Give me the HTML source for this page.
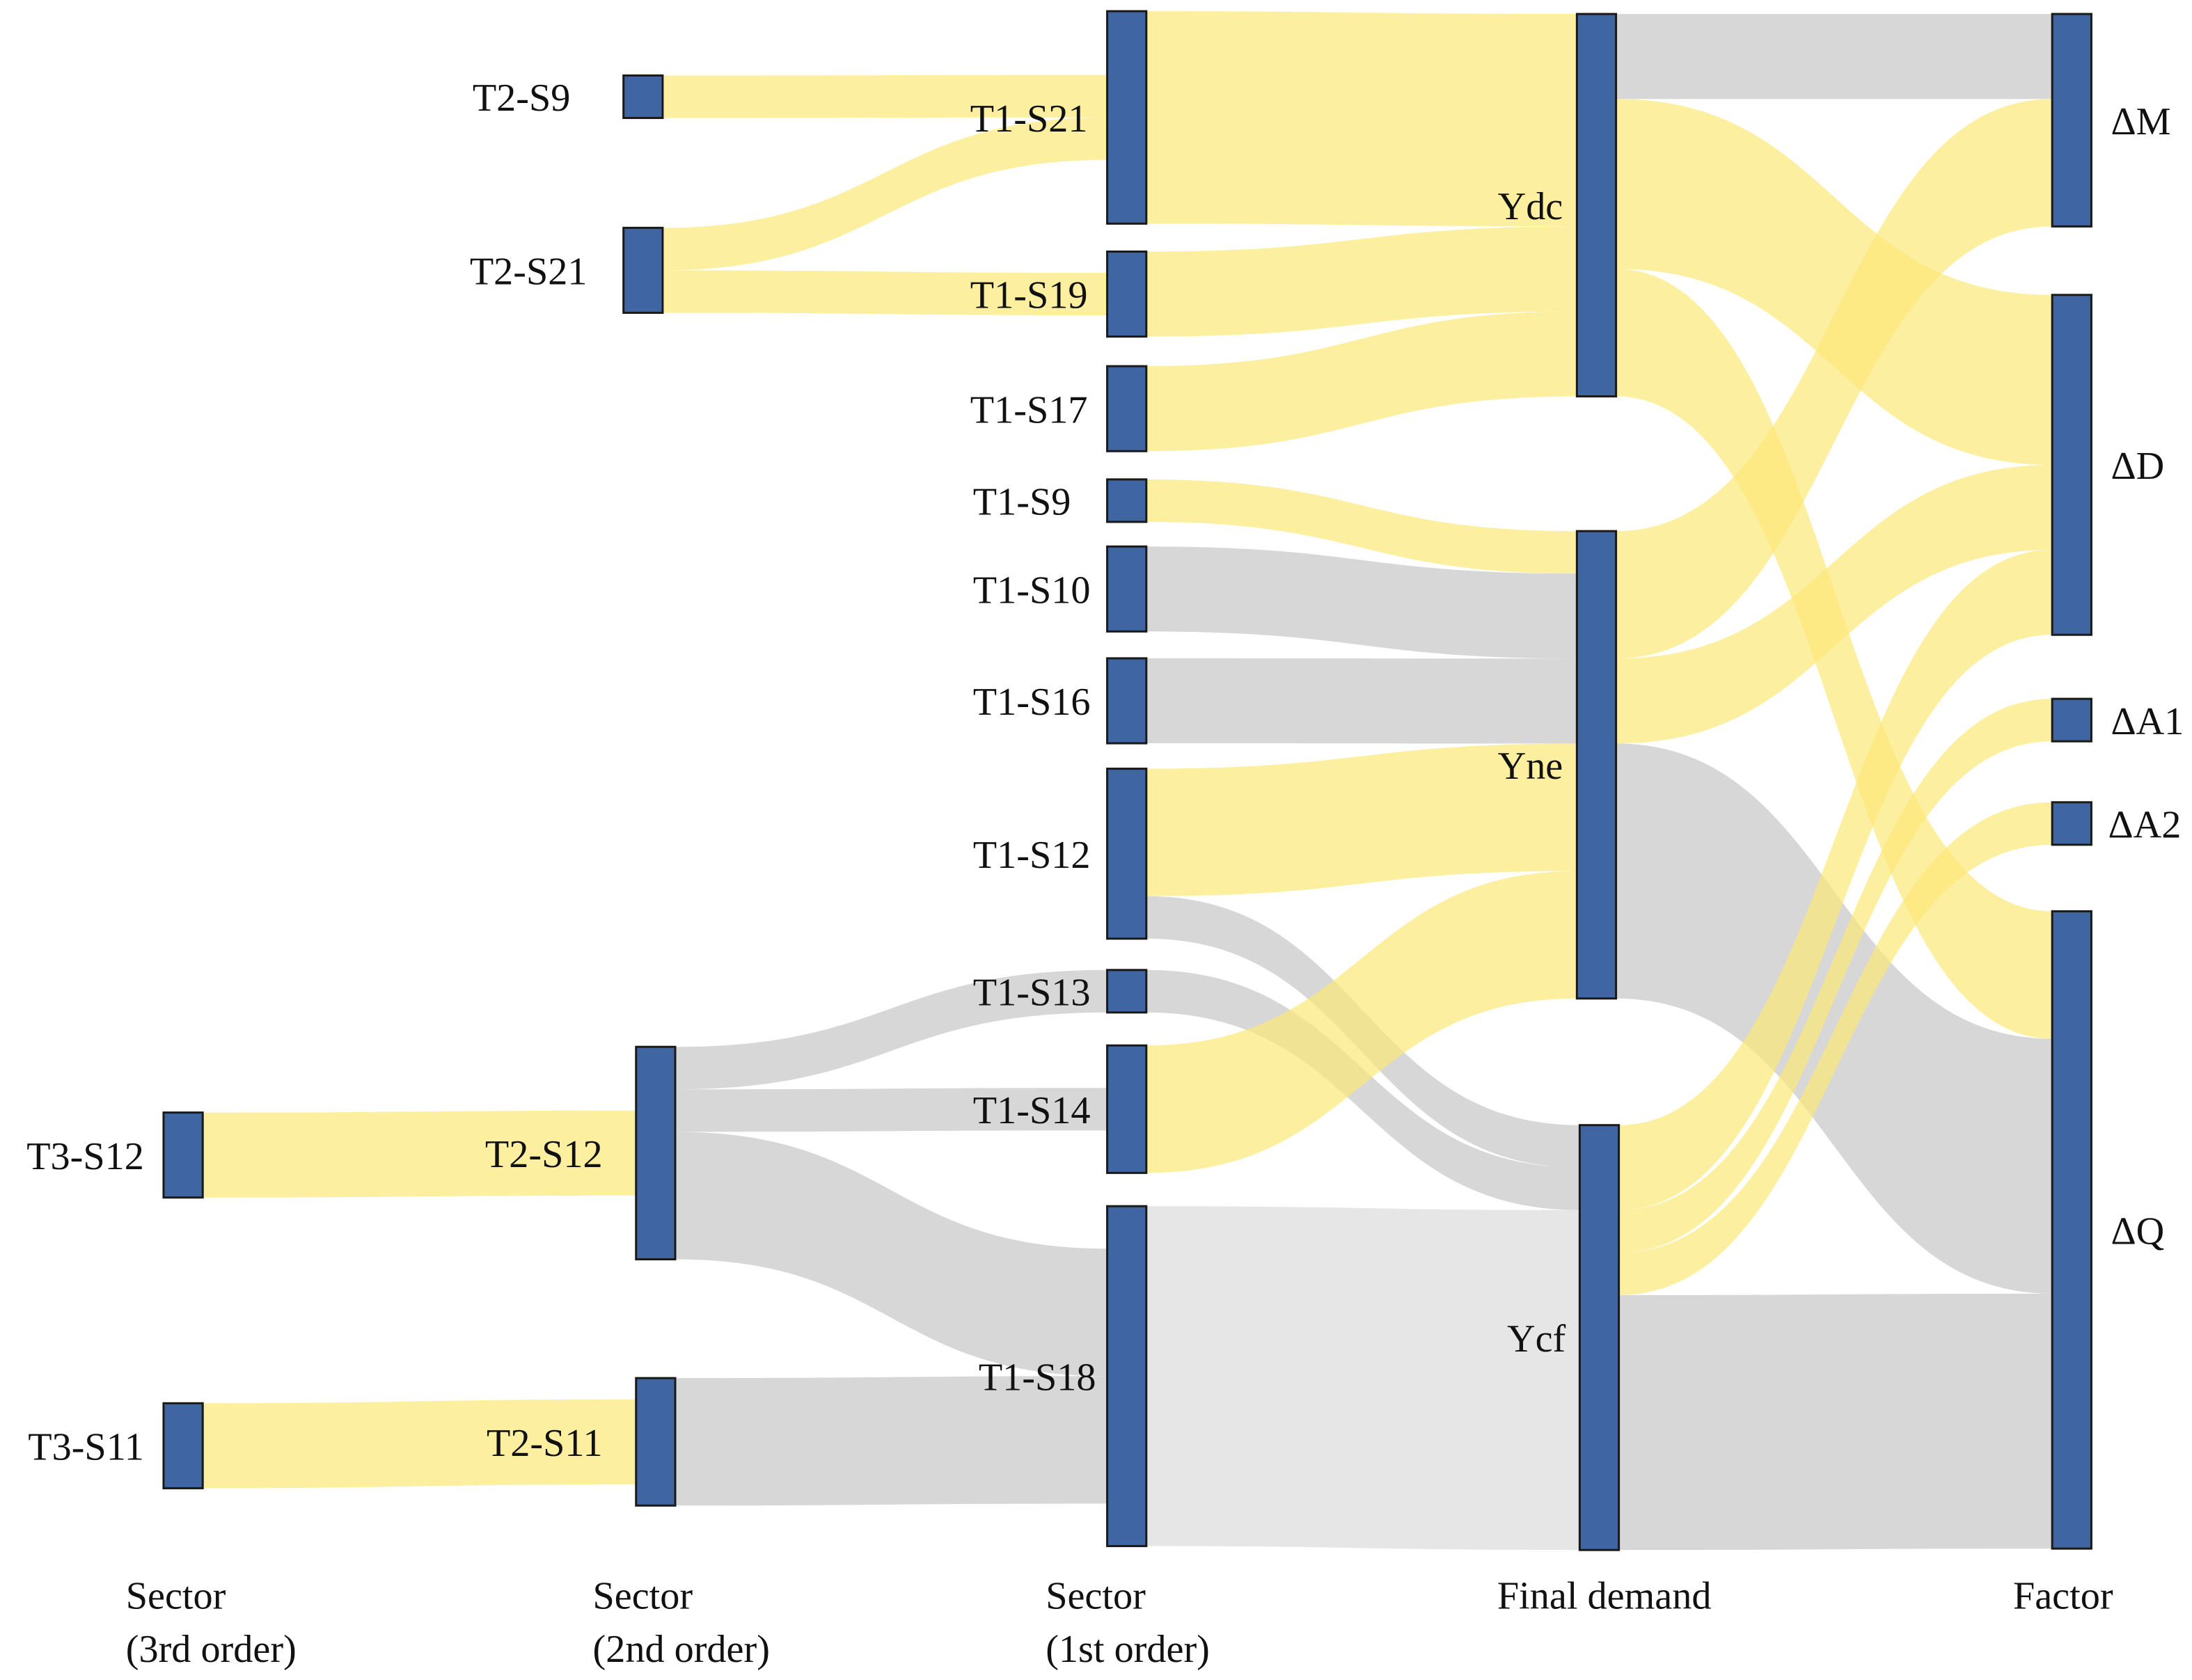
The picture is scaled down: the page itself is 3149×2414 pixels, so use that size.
<!DOCTYPE html>
<html><head><meta charset="utf-8"><style>
html,body{margin:0;padding:0;background:#fff;}
svg{display:block;}
text{font-family:"Liberation Serif","Times New Roman",serif;font-size:28px;fill:#111;}
</style></head><body>
<svg id="chart" width="3149" height="2414" viewBox="0 0 1568 1202" xmlns="http://www.w3.org/2000/svg" font-family="Liberation Serif, serif">
<g id="links"></g>
<g id="nodes"></g>
<g id="titles">
<text x="90" y="1151">Sector</text>
<text x="90" y="1189">(3rd order)</text>
<text x="424" y="1151">Sector</text>
<text x="424" y="1189">(2nd order)</text>
<text x="748" y="1151">Sector</text>
<text x="748" y="1189">(1st order)</text>
<text x="1071" y="1151">Final demand</text>
<text x="1440" y="1151">Factor</text>
</g>
</svg>
<script>
const nodeNames = ["T3-S12","T3-S11","T2-S9","T2-S21","T2-S12","T2-S11","T1-S21","T1-S19","T1-S17","T1-S9","T1-S10","T1-S16","T1-S12","T1-S13","T1-S14","T1-S18","Ydc","Yne","Ycf","ΔM","ΔD","ΔA1","ΔA2","ΔQ"];
const linkSources = ["T2-S9","T2-S21","T2-S21","T3-S12","T3-S11","T2-S12","T2-S12","T2-S12","T2-S11","T1-S21","T1-S19","T1-S17","T1-S9","T1-S10","T1-S16","T1-S12","T1-S12","T1-S13","T1-S14","T1-S18","Ydc","Ydc","Ydc","Yne","Yne","Yne","Ycf","Ycf","Ycf","Ycf"];
const linkTargets = ["T1-S21","T1-S21","T1-S19","T2-S12","T2-S11","T1-S13","T1-S14","T1-S18","T1-S18","Ydc","Ydc","Ydc","Yne","Yne","Yne","Yne","Ycf","Ycf","Yne","Ycf","ΔM","ΔD","ΔQ","ΔM","ΔD","ΔQ","ΔD","ΔA1","ΔA2","ΔQ"];
const linkValues = [1,1,1,2,2,1,1,3,3,5,2,2,1,2,2,3,1,1,3,8,2,4,3,3,2,6,2,1,1,6];
const linkKinds = ["y","y","y","y","y","g","g","g","g","y","y","y","y","g","g","y","g","g","y","l","g","y","y","y","y","g","y","y","y","g"];

// layout (not data)
const layout = {
 "T3-S12":[117,796,"l",14],"T3-S11":[117,1004,"l",14],
 "T2-S9":[446,54,"l",38],"T2-S21":[446,163,"l",26],"T2-S12":[455,749,"l",24],"T2-S11":[455,986,"l",24],
 "T1-S21":[792,8,"l",14],"T1-S19":[792,180,"l",14],"T1-S17":[792,262,"l",14],"T1-S9":[792,343,"l",26],
 "T1-S10":[792,391,"l",12],"T1-S16":[792,471,"l",12],"T1-S12":[792,550,"l",12],"T1-S13":[792,694,"l",12],
 "T1-S14":[792,748,"l",12],"T1-S18":[792,863,"l",8],
 "Ydc":[1128,10,"l",10],"Yne":[1128,380,"l",10],"Ycf":[1130,805,"l",10],
 "ΔM":[1468,10,"r",14],"ΔD":[1468,211,"r",14],"ΔA1":[1468,500,"r",14],"ΔA2":[1468,574,"r",12],"ΔQ":[1468,652,"r",14]
};
const NW = 28, U = 30.4;
const colors = {y:"rgba(252,232,120,0.7)", g:"rgba(200,200,200,0.72)", l:"rgba(222,222,222,0.75)"};
const svgNS = "http://www.w3.org/2000/svg";
const linksG = document.getElementById('links'), nodesG = document.getElementById('nodes');

const nodes = {};
nodeNames.forEach(n => {
  const [x,y,side,gap] = layout[n];
  let out = 0, inn = 0;
  linkSources.forEach((s,i)=>{ if(s===n) out+=linkValues[i]; });
  linkTargets.forEach((t,i)=>{ if(t===n) inn+=linkValues[i]; });
  const h = Math.max(out,inn)*U;
  nodes[n] = {x,y,side,gap,h,out:out*U,inn:inn*U};
});
const idx = linkValues.map((v,i)=>i);
const sy = {}, ty = {};
nodeNames.forEach(n=>{
  const d = nodes[n];
  let off = d.y + (d.h - d.out)/2;
  idx.filter(i=>linkSources[i]===n).sort((a,b)=>nodes[linkTargets[a]].y-nodes[linkTargets[b]].y)
    .forEach(i=>{ sy[i]=off; off+=linkValues[i]*U; });
  off = d.y + (d.h - d.inn)/2;
  idx.filter(i=>linkTargets[i]===n).sort((a,b)=>nodes[linkSources[a]].y-nodes[linkSources[b]].y)
    .forEach(i=>{ ty[i]=off; off+=linkValues[i]*U; });
});
idx.forEach(i=>{
  const s = nodes[linkSources[i]], t = nodes[linkTargets[i]];
  const x0 = s.x+NW, x1 = t.x, w = linkValues[i]*U, mx = (x0+x1)/2;
  const y0 = sy[i], y1 = ty[i];
  const p = document.createElementNS(svgNS,'path');
  p.setAttribute('d',`M${x0},${y0}C${mx},${y0} ${mx},${y1} ${x1},${y1}L${x1},${y1+w}C${mx},${y1+w} ${mx},${y0+w} ${x0},${y0+w}Z`);
  p.setAttribute('fill',colors[linkKinds[i]]);
  
  
  linksG.appendChild(p);
});
nodeNames.forEach(n=>{
  const d = nodes[n];
  const r = document.createElementNS(svgNS,'rect');
  r.setAttribute('x',d.x); r.setAttribute('y',d.y); r.setAttribute('width',NW); r.setAttribute('height',d.h);
  r.setAttribute('fill','#3f65a2'); r.setAttribute('stroke','#1a1a1a'); r.setAttribute('stroke-width','1.5');
  
  
  nodesG.appendChild(r);
  const t = document.createElementNS(svgNS,'text');
  t.textContent = n;
  t.setAttribute('y', d.y+d.h/2+10);
  if(d.side==='r'){ t.setAttribute('x', d.x+NW+d.gap); }
  else { t.setAttribute('x', d.x-d.gap); t.setAttribute('text-anchor','end'); }
  
  
  nodesG.appendChild(t);
});
</script>
</body></html>
